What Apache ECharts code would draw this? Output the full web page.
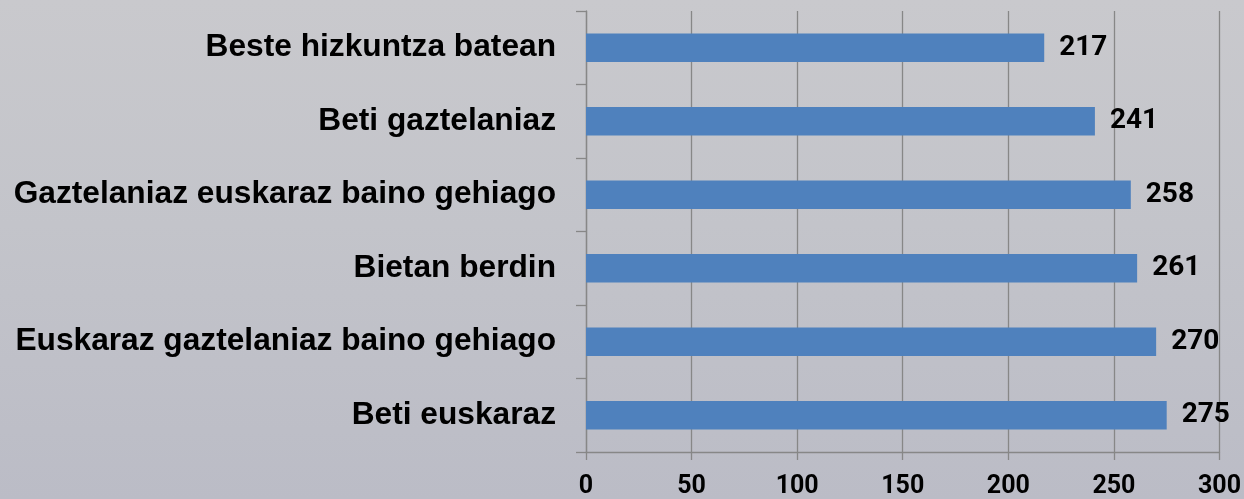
<!DOCTYPE html>
<html>
<head>
<meta charset="utf-8">
<script src="https://cdn.jsdelivr.net/npm/echarts@6/dist/echarts.min.js"></script>
<style>
html,body{margin:0;padding:0;}
#chart{width:1244px;height:499px;background:linear-gradient(180deg,#c9c9cd 0%,#c3c4ca 45%,#bbbcc6 100%);}
</style>
</head>
<body>
<div id="chart"></div>
<script>
// Categories listed bottom to top
const categories = ['Beti euskaraz','Euskaraz gaztelaniaz baino gehiago','Bietan berdin','Gaztelaniaz euskaraz baino gehiago','Beti gaztelaniaz','Beste hizkuntza batean'];
const values = [275, 270, 261, 258, 241, 217];
const xTicks = [0, 50, 100, 150, 200, 250, 300];

const chart = echarts.init(document.getElementById('chart'), null, {renderer:'canvas'});
const lineColor = '#878787';
chart.setOption({
  backgroundColor: 'transparent',
  animation: false,
  grid: {left: 586, right: 23, top: 11, bottom: 47, containLabel: false},
  xAxis: {
    type: 'value',
    min: xTicks[0],
    max: xTicks[xTicks.length - 1],
    interval: 50,
    axisLine: {show: true, lineStyle: {color: lineColor, width: 1.3}},
    axisTick: {show: true, length: 8, lineStyle: {color: lineColor, width: 1.3}},
    splitLine: {show: true, lineStyle: {color: lineColor, width: 1.3}},
    axisLabel: {
      margin: 22,
      color: '#000',
      fontFamily: 'Roboto',
      fontWeight: 'bold',
      fontSize: 25
    }
  },
  yAxis: {
    type: 'category',
    data: categories,
    axisLine: {show: true, lineStyle: {color: lineColor, width: 1.3}},
    axisTick: {show: true, length: 10, lineStyle: {color: lineColor, width: 1.3}},
    axisLabel: {
      margin: 30,
      color: '#000',
      fontFamily: 'Liberation Sans',
      fontWeight: 'bold',
      fontSize: 31.7
    }
  },
  series: [{
    type: 'bar',
    data: values,
    barCategoryGap: '61%',
    itemStyle: {color: '#4f81bd'},
    label: {
      show: true,
      position: 'right',
      distance: 15,
      color: '#000',
      fontFamily: 'Roboto',
      fontWeight: 'bold',
      fontSize: 28
    }
  }]
});
</script>
</body>
</html>
